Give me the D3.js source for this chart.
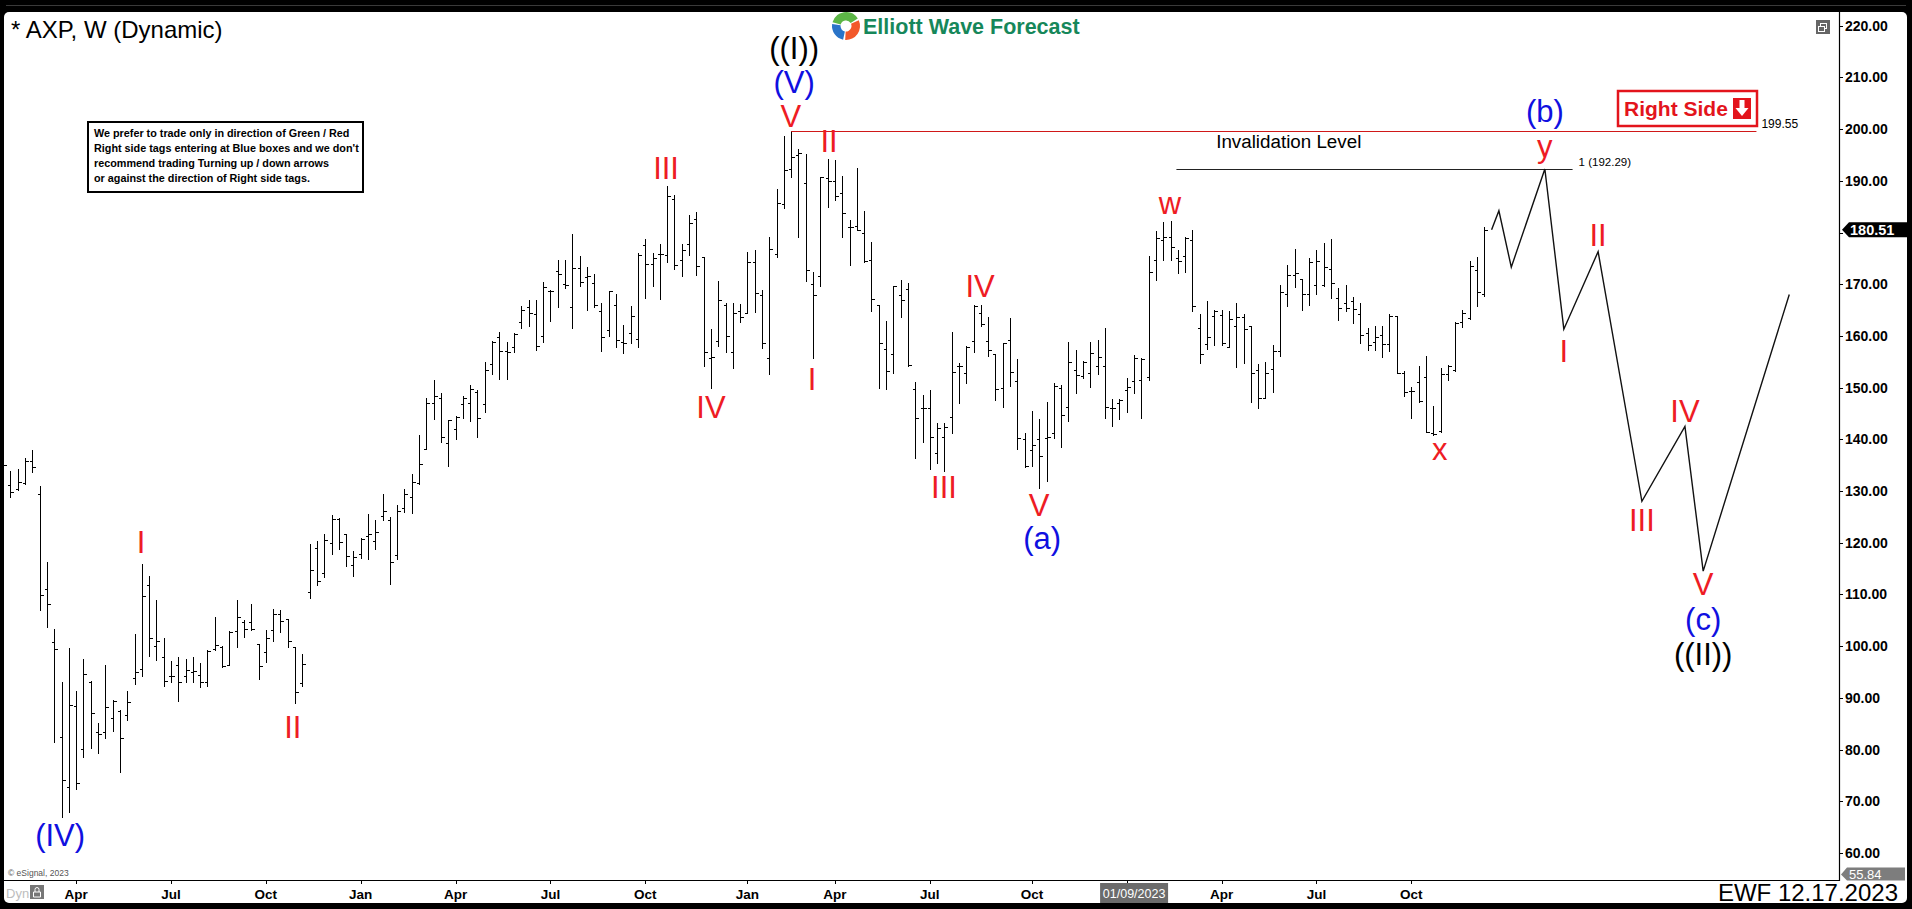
<!DOCTYPE html>
<html><head><meta charset="utf-8">
<script src="https://cdn.jsdelivr.net/npm/d3@7"></script>
<style>
html,body{margin:0;padding:0;background:#000;overflow:hidden}
svg{display:block}
text{font-family:Arial,"Liberation Sans",sans-serif}
</style>
</head><body>
<svg id="c" width="1912" height="909"></svg>
<script>
// ---------------- DATA ----------------
const symbolTitle = "* AXP, W (Dynamic)";
const firstWeek = new Date(2020, 0, 20);   // Monday of first weekly bar
const opens = [132,131.2,130.4,131.5,135.8,129.4,111.0,100.7,82.4,72.7,88.4,80.1,93,83.4,83.3,86.0,87.5,86.7,93.8,95.5,
111.8,100.0,97.8,94.2,96.3,94.2,94.9,94.5,93.1,99.4,99.8,96.3,103.0,104.7,104.7,100.4,98.8,103.2,106.2,105.2,
99.9,92.8,110.4,118.9,114.1,119.9,124.5,121.7,115.7,117.9,121.2,120.3,125.2,124.3,117.6,126.8,128.8,131.5,138.1,147.1,
147.9,139.3,141.9,146.8,147.1,149.2,146.8,154.5,159.7,157.1,157.8,162.6,165.5,164.2,159.9,168.6,172.6,170.0,165.5,173.1,
171.3,170.2,164.8,161.1,166.0,158.9,160.6,159.4,177.6,173.9,175.8,175.6,186.5,174.6,177.8,182.7,175.2,155.8,159.0,166.0,
156.9,164.9,164.4,174.2,167.9,155.7,175.8,185.6,192.2,195.0,189.5,170.0,171.5,190.6,190.0,187.6,181.0,181.3,180.0,174.6,
166.0,157.4,156.5,167.9,169.0,149.7,146.0,146.0,137.3,140.4,144.4,154.1,152.9,159.1,164.4,159.1,156.5,149.9,159.3,151.3,
140.0,137.9,140.0,140.3,141.2,149.9,146.2,153.4,152.2,152.8,154.1,154.2,146.0,147.1,149.5,151.3,151.5,152.1,174.7,178.5,
179.2,175.0,175.5,178.5,161.5,158.4,163.8,164.0,157.9,161.9,163.6,162.0,153.4,148.0,153.6,157.1,168.2,171.8,171.0,168.2,
169.8,169.8,172.9,167.4,166.4,166.8,164.2,160.6,158.9,160.2,158.4,163.8,152.9,149.4,151.1,152.1,141.3,141.6,152.6,153.4,
162.7,163.4,172.7,168.2];
const highs = [137,133.9,134.2,136.3,137.9,131.0,116.3,103.3,93.0,99.6,91.3,97.6,93.3,85.1,96.3,89.5,87.6,91.3,102.3,115.9,
113.6,108.9,101.5,97.1,97.9,97.6,97.8,96.7,99.2,105.6,100.0,103.0,108.9,105.1,108.1,100.5,103.1,107.1,107.0,105.2,
99.9,98.5,119.7,120.3,121.7,125.4,124.8,121.7,118.3,121.0,125.5,124.4,129.4,125.0,127.3,130.3,133.3,140.8,147.9,151.5,
148.9,143.8,144.5,148.4,150.5,149.5,155.0,159.1,160.7,158.9,160.5,165.8,166.9,166.9,170.4,168.9,174.7,174.7,179.7,175.5,
173.3,172.0,166.3,168.7,168.2,162.1,165.8,176.0,178.7,176.0,177.8,189.0,187.3,177.8,183.4,184.0,175.3,161.3,170.7,166.4,
166.4,166.2,176.2,176.7,168.9,179.2,188.5,198.7,199.55,196.1,195.2,172.3,190.8,194.3,194.0,190.9,182.4,192.4,184.2,178.1,
166.0,162.8,169.7,170.8,170.3,151.0,148.6,149.5,143.2,143.2,160.8,154.8,158.0,166.0,166.0,163.6,156.5,158.6,163.4,155.5,
141.2,145.5,144.0,147.2,150.8,150.5,158.8,157.3,155.1,158.8,159.3,161.5,147.7,147.7,151.8,156.3,155.7,175.5,180.3,182.1,
182.2,176.6,179.2,180.5,164.2,166.8,165.0,165.1,164.9,166.4,164.2,162.0,154.6,155.0,158.2,169.8,173.7,176.9,171.1,175.0,
176.6,178.0,178.7,169.2,169.8,167.5,166.3,161.5,161.9,161.9,164.2,163.8,153.2,150.2,154.2,156.1,146.4,153.7,154.4,162.6,
165.0,174.4,175.2,181.1];
const lows = [131,128.8,130.2,131.4,133.7,106.9,103.6,81.5,66.9,68.0,72.4,78.6,80.2,79.3,82.2,83.6,75.7,85.8,92.7,94.3,
98.0,97.4,92.2,93.1,89.4,93.1,93.1,92.0,92.2,99.2,95.9,96.3,99.9,101.8,103.2,93.6,97.0,101.0,102.8,99.9,
88.9,92.3,109.4,111.8,113.4,117.9,118.7,115.5,113.6,117.0,116.8,118.7,124.3,112.0,116.8,125.9,125.8,131.3,138.1,144.0,
139.5,134.9,140.1,144.2,143.6,140.5,145.3,152.7,151.7,151.6,156.8,161.5,162.0,157.2,158.9,162.9,165.5,169.3,161.5,169.7,
165.1,165.6,157.1,160.0,157.8,156.6,158.7,157.8,167.3,169.7,167.1,174.2,172.9,171.5,175.6,171.7,154.2,149.9,158.0,156.8,
153.7,162.6,164.4,164.6,157.6,152.6,175.2,184.7,190.8,179.1,170.7,155.7,169.6,185.0,186.3,179.1,173.7,180.5,174.2,164.9,
149.9,149.7,152.8,163.7,154.2,136.3,139.4,134.2,135.5,133.9,141.3,147.1,150.8,156.8,161.9,156.1,147.6,146.3,150.3,138.1,
134.7,134.8,130.5,132.0,140.2,138.6,143.6,149.0,151.8,150.2,152.6,144.1,142.6,143.9,145.3,149.0,144.1,151.5,170.9,174.6,
174.6,172.1,172.4,164.8,154.8,157.4,158.2,158.2,157.9,153.9,154.8,147.3,146.1,148.0,149.2,156.1,165.7,169.4,165.1,166.0,
168.2,169.6,167.3,163.0,164.9,162.4,158.7,157.3,157.3,156.0,157.1,152.9,148.4,144.2,147.3,141.4,140.8,141.5,151.5,153.3,
161.7,163.2,165.8,167.7];
const closes = [135,129.9,131.8,135.8,134.7,109.9,108.1,99.4,74.1,88.6,73.5,94.7,87.1,83.0,88.3,89.4,82.2,89.1,94.9,109.7,
101.5,100.9,93.2,94.3,93.1,95.3,95.2,93.1,99.1,100.2,96.2,102.8,105.6,103.3,103.3,96.1,101.5,106.2,104.8,101.0,
91.1,96.5,114.8,112.5,120.5,124.5,120.1,117.4,117.3,120.8,121.7,122.0,126.1,116.3,126.2,129.5,131.7,135.2,147.1,148.4,
140.5,143.7,144.4,147.9,149.8,144.2,153.4,158.9,157.1,156.9,160.3,165.0,164.4,158.0,169.5,168.6,172.0,169.8,173.2,170.5,
171.5,166.0,159.7,168.6,159.2,158.6,163.8,175.6,173.9,175.0,175.8,187.1,173.7,176.7,181.9,173.5,156.8,156.0,166.9,160.0,
164.4,163.7,174.2,168.3,158.6,176.9,185.8,192.0,194.7,195.3,172.7,167.9,190.7,190.0,187.1,183.7,181.1,180.5,174.4,167.1,
158.6,153.3,169.7,166.9,154.4,144.1,146.0,140.4,142.1,142.4,153.1,154.1,157.9,165.8,162.3,157.3,149.7,158.6,153.1,140.2,
134.8,138.9,136.8,140.4,150.3,144.7,154.9,152.4,155.0,156.6,155.9,146.2,146.0,147.6,150.2,155.7,155.5,172.3,178.9,179.2,
177.1,174.4,178.9,165.7,156.5,159.7,164.9,158.7,163.2,163.6,161.3,152.8,147.9,152.9,157.1,168.4,171.8,172.1,168.1,174.2,
174.4,173.3,170.2,165.3,165.3,165.2,160.2,158.2,159.7,158.4,163.8,152.9,149.2,149.4,147.4,141.5,141.0,152.6,154.2,162.4,
164.5,173.5,168.4,180.51];

const priceTicks = [60,70,80,90,100,110,120,130,140,150,160,170,180,190,200,210,220];
const tickMonths = ["2020-04","2020-07","2020-10","2021-01","2021-04","2021-07","2021-10",
                    "2022-01","2022-04","2022-07","2022-10","2023-01","2023-04","2023-07","2023-10"];
const tickLabels = ["Apr","Jul","Oct","Jan","Apr","Jul","Oct","Jan","Apr","Jul","Oct","Jan","Apr","Jul","Oct"];
const cursorDate = new Date(2023, 0, 9);
const cursorLabel = "01/09/2023";
const lastPrice = 180.51;
const axisLowPrice = 55.84;

// Elliott wave labels: text, week index (from firstWeek), price at baseline, degree
const waveText   = ["(IV)","I","II","III","IV","V","(V)","((I))","I","II","III","IV","V","(a)","w","x","y","(b)","I","II","III","IV","V","(c)","((II))"];
const waveWeek   = [7.8,18.9,39.7,90.85,97.0,107.97,108.4,108.4,110.86,113.2,128.95,133.9,141.97,142.4,159.9,196.9,211.3,211.3,213.9,218.6,224.6,230.5,233.0,233.0,233.0];
const wavePrice  = [61.3,118.0,82.2,190.35,144.1,200.5,206.9,213.6,149.5,195.6,128.6,167.5,125.2,118.8,183.6,136.0,194.6,201.3,155.0,177.4,122.3,143.3,109.9,103.2,96.4];
const waveDegree = ["int","min","min","min","min","min","int","pri","min","min","min","min","min","int","min","min","min","int","min","min","min","min","min","int","pri"];

// Projected path
const forecastWeek  = [204,205,206.7,211.3,213.9,218.6,224.6,230.5,233.0,244.8];
const forecastPrice = [180.51,184.2,173.3,192.29,161.3,176.3,128.0,142.5,114.5,168.0];

// Levels
const invalidationLevel = 199.55;
const invalidationSpan = [108, 240.3];
const targetLevel = 192.29;
const targetSpan = [160.8, 215.1];
const invalidationTextPos = [176.2, 196.4];

const noteLines = ["We prefer to trade only in direction of Green / Red",
                   "Right side tags entering at Blue boxes and we don't",
                   "recommend trading Turning up / down arrows",
                   "or against the direction of Right side tags."];

// ---------------- DRAW ----------------
const W = 1912, H = 909;
const plot = {l: 4, r: 1839, t: 12, b: 880};
const svg = d3.select("#c");

svg.append("rect").attr("width", W).attr("height", H).attr("fill", "#000");
svg.append("line").attr("x1", 6).attr("x2", 1906).attr("y1", 5.5).attr("y2", 5.5).attr("stroke", "#3a3a3a");
svg.append("rect").attr("x", 4).attr("y", 12).attr("width", 1903).attr("height", 891)
  .attr("rx", 5).attr("fill", "#fff");

const weekDate = w => new Date(firstWeek.getTime() + w * 7 * 864e5);
const dates = opens.map((_, i) => d3.timeWeek.offset(firstWeek, i));

const x = d3.scaleTime().domain([dates[0], dates[dates.length - 1]]).range([3.2, 1484.3]);
const y = d3.scaleLinear().domain([60, 220]).range([852.9, 25.7]);

svg.append("defs").append("clipPath").attr("id", "clip")
  .append("rect").attr("x", plot.l).attr("y", plot.t).attr("width", plot.r - plot.l).attr("height", plot.b - plot.t);

const g = svg.append("g").attr("clip-path", "url(#clip)");

// OHLC bars
const bx = i => Math.round(x(dates[i])) + 0.5;
const bars = g.append("g").attr("stroke", "#000").attr("stroke-width", 1).attr("shape-rendering", "crispEdges");
bars.selectAll("line.hl").data(d3.range(opens.length)).join("line")
  .attr("x1", bx).attr("x2", bx).attr("y1", i => y(highs[i])).attr("y2", i => y(lows[i]) + 1);
bars.selectAll("line.o").data(d3.range(opens.length)).join("line")
  .attr("x1", i => bx(i) - 3).attr("x2", bx).attr("y1", i => Math.round(y(opens[i])) + 0.5).attr("y2", i => Math.round(y(opens[i])) + 0.5);
bars.selectAll("line.c").data(d3.range(opens.length)).join("line")
  .attr("x1", bx).attr("x2", i => bx(i) + 3).attr("y1", i => Math.round(y(closes[i])) + 0.5).attr("y2", i => Math.round(y(closes[i])) + 0.5);

// Level lines
g.append("line").attr("x1", x(weekDate(invalidationSpan[0]))).attr("x2", x(weekDate(invalidationSpan[1])))
  .attr("y1", Math.round(y(invalidationLevel)) + 0.5).attr("y2", Math.round(y(invalidationLevel)) + 0.5)
  .attr("stroke", "#d01818").attr("stroke-width", 1);
g.append("text").attr("x", x(weekDate(invalidationSpan[1])) + 5).attr("y", y(invalidationLevel) - 3)
  .attr("font-size", 12).attr("fill", "#000").text(invalidationLevel.toFixed(2));

g.append("line").attr("x1", x(weekDate(targetSpan[0]))).attr("x2", x(weekDate(targetSpan[1])))
  .attr("y1", Math.round(y(targetLevel)) + 0.5).attr("y2", Math.round(y(targetLevel)) + 0.5)
  .attr("stroke", "#222").attr("stroke-width", 1);
g.append("text").attr("x", x(weekDate(targetSpan[1])) + 6).attr("y", y(targetLevel) - 3)
  .attr("font-size", 11.5).attr("fill", "#000").text("1 (" + targetLevel.toFixed(2) + ")");

g.append("text").attr("x", x(weekDate(invalidationTextPos[0]))).attr("y", y(invalidationTextPos[1]))
  .attr("text-anchor", "middle").attr("font-size", 18.8).attr("fill", "#000").text("Invalidation Level");

// Forecast path
const fLine = d3.line().x(d => x(weekDate(d[0]))).y(d => y(d[1]));
g.append("path").datum(forecastWeek.map((w, i) => [w, forecastPrice[i]]))
  .attr("d", fLine).attr("fill", "none").attr("stroke", "#111").attr("stroke-width", 1.4);

// Wave labels
const degreeColor = {min: "#ee1c24", int: "#1010e0", pri: "#000"};
g.selectAll("text.wave").data(waveText.map((t, i) => i)).join("text")
  .attr("class", "wave")
  .attr("x", i => x(weekDate(waveWeek[i])))
  .attr("y", i => y(wavePrice[i]))
  .attr("text-anchor", "middle").attr("font-size", 31)
  .attr("fill", i => degreeColor[waveDegree[i]])
  .text(i => waveText[i]);

// Right axis
svg.append("line").attr("x1", plot.r + 0.5).attr("x2", plot.r + 0.5).attr("y1", plot.t).attr("y2", plot.b + 1)
  .attr("stroke", "#000").attr("stroke-width", 1.2);
const ly = y(lastPrice);
const visibleTicks = priceTicks.filter(d => Math.abs(y(d) - ly) > 12);   // tag hides the nearby label
const yAx = svg.append("g");
yAx.selectAll("line").data(priceTicks).join("line")
  .attr("x1", plot.r).attr("x2", plot.r + 4).attr("y1", d => Math.round(y(d)) + 0.5).attr("y2", d => Math.round(y(d)) + 0.5)
  .attr("stroke", "#000");
yAx.selectAll("text").data(visibleTicks).join("text")
  .attr("x", plot.r + 6).attr("y", d => y(d) + 5).attr("font-size", 14).attr("font-weight", "bold")
  .attr("fill", "#000").text(d => d.toFixed(2));

// Bottom axis
svg.append("line").attr("x1", plot.l).attr("x2", plot.r + 1).attr("y1", plot.b + 0.5).attr("y2", plot.b + 0.5)
  .attr("stroke", "#000").attr("stroke-width", 1.2);
const tickDates = tickMonths.map(s => {
  const [yy, mm] = s.split("-").map(Number);
  const d = new Date(yy, mm - 1, 1);
  while (d.getDay() === 0 || d.getDay() === 6) d.setDate(d.getDate() + 1);
  return d3.timeMonday.floor(d);
});
const cx = x(cursorDate);
const xAx = svg.append("g");
xAx.selectAll("line").data(tickDates).join("line")
  .attr("x1", d => Math.round(x(d)) + 0.5).attr("x2", d => Math.round(x(d)) + 0.5)
  .attr("y1", plot.b).attr("y2", plot.b + 4).attr("stroke", "#000");
const tickIdx = d3.range(tickDates.length).filter(i => Math.abs(x(tickDates[i]) - cx) > 40); // cursor box hides one label
xAx.selectAll("text").data(tickIdx).join("text")
  .attr("x", i => x(tickDates[i])).attr("y", 899).attr("text-anchor", "middle")
  .attr("font-size", 13.5).attr("font-weight", "bold").attr("fill", "#000")
  .text(i => tickLabels[i]);

// cursor date box
svg.append("rect").attr("x", cx - 34).attr("y", 883).attr("width", 68).attr("height", 20).attr("fill", "#6b6b6b");
svg.append("text").attr("x", cx).attr("y", 898).attr("text-anchor", "middle").attr("font-size", 12.5)
  .attr("fill", "#fff").text(cursorLabel);

// last price tag
svg.append("path").attr("d", `M${plot.r + 3},${ly} L${plot.r + 10},${ly - 7.5} L1907,${ly - 7.5} L1907,${ly + 7.5} L${plot.r + 10},${ly + 7.5} Z`)
  .attr("fill", "#000");
svg.append("text").attr("x", plot.r + 11).attr("y", ly + 5).attr("font-size", 14.5).attr("font-weight", "bold")
  .attr("fill", "#fff").text(lastPrice.toFixed(2));

// low-of-axis tag
const lo = y(axisLowPrice);
svg.append("path").attr("d", `M${plot.r + 2},${lo} L${plot.r + 8},${lo - 7} L1905,${lo - 7} L1905,${lo + 6} L${plot.r + 8},${lo + 6} Z`)
  .attr("fill", "#7d7d7d");
svg.append("text").attr("x", plot.r + 10).attr("y", lo + 4.5).attr("font-size", 13)
  .attr("fill", "#fff").text(axisLowPrice.toFixed(2));

// Title
svg.append("text").attr("x", 11).attr("y", 38).attr("font-size", 24).attr("fill", "#000").text(symbolTitle);

// Note box
svg.append("rect").attr("x", 88).attr("y", 122).attr("width", 275).attr("height", 70)
  .attr("fill", "#fff").attr("stroke", "#000").attr("stroke-width", 2);
svg.selectAll("text.note").data(noteLines).join("text").attr("class", "note")
  .attr("x", 94).attr("y", (d, i) => 137 + i * 15).attr("font-size", 10.8).attr("font-weight", "bold")
  .attr("fill", "#000").text(d => d);

// Logo
const logo = svg.append("g").attr("transform", "translate(846,26)");
const arc = d3.arc().innerRadius(5.5).outerRadius(14);
[[-1.3, 1.0, "#5cb646"], [1.15, 3.2, "#f2582a"], [3.35, 4.85, "#2a74c8"]].forEach(a => {
  logo.append("path").attr("d", arc({startAngle: a[0], endAngle: a[1]})).attr("fill", a[2]);
});
svg.append("text").attr("x", 863).attr("y", 33.5).attr("font-size", 21.5).attr("font-weight", "bold")
  .attr("fill", "#16875a").text("Elliott Wave Forecast");

// Right Side tag
const tag = svg.append("g").attr("transform", "translate(-8,0)");
tag.append("rect").attr("x", 1626).attr("y", 91).attr("width", 139).attr("height", 35)
  .attr("fill", "#fff").attr("stroke", "#e3141c").attr("stroke-width", 2.5);
tag.append("text").attr("x", 1632).attr("y", 116).attr("font-size", 21).attr("font-weight", "bold")
  .attr("fill", "#e3141c").text("Right Side");
tag.append("rect").attr("x", 1741).attr("y", 98).attr("width", 18).attr("height", 21).attr("fill", "#e3141c");
tag.append("path").attr("d", "M1747.5,100 L1752.5,100 L1752.5,108 L1756.5,108 L1750,116 L1743.5,108 L1747.5,108 Z")
  .attr("fill", "#fff");

// window icon top-right
svg.append("rect").attr("x", 1816).attr("y", 20).attr("width", 14).attr("height", 14).attr("fill", "#666");
svg.append("rect").attr("x", 1820.5).attr("y", 23.5).attr("width", 6).attr("height", 5).attr("fill", "none").attr("stroke", "#fff");
svg.append("rect").attr("x", 1818.5).attr("y", 26.5).attr("width", 6).attr("height", 5).attr("fill", "#666").attr("stroke", "#fff");

// bottom-left marks
svg.append("text").attr("x", 8).attr("y", 876).attr("font-size", 8.5).attr("fill", "#555").text("© eSignal, 2023");
svg.append("text").attr("x", 6).attr("y", 898).attr("font-size", 13).attr("fill", "#bdbdbd").text("Dyn");
svg.append("rect").attr("x", 30).attr("y", 885).attr("width", 14).attr("height", 14).attr("fill", "#777");
svg.append("path").attr("d", "M33.5,892 L33.5,897 L40.5,897 L40.5,892 Z M35,892 L35,889.5 A2,2 0 0 1 39,889.5 L39,892")
  .attr("fill", "none").attr("stroke", "#fff").attr("stroke-width", 1);

// EWF stamp
svg.append("text").attr("x", 1898).attr("y", 901).attr("text-anchor", "end").attr("font-size", 24)
  .attr("fill", "#000").text("EWF 12.17.2023");
</script>
</body></html>
